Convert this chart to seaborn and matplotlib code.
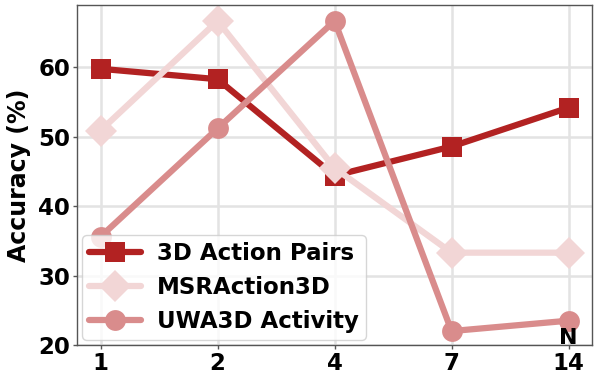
import matplotlib
matplotlib.use("Agg")
import matplotlib.pyplot as plt
import seaborn as sns
import pandas as pd

n_labels = ["1", "2", "4", "7", "14"]
pairs_3d = [59.8, 58.3, 44.4, 48.6, 54.2]
msr_3d = [50.9, 66.7, 45.5, 33.3, 33.3]
uwa_3d = [35.6, 51.2, 66.7, 22.0, 23.5]

series_names = ["3D Action Pairs", "MSRAction3D", "UWA3D Activity"]
series_vals = [pairs_3d, msr_3d, uwa_3d]
colors = ["#B22222", "#F2D6D6", "#D98C8C"]
markers = ["s", "D", "o"]
msizes = [15, 16, 15]

sns.set_theme(style="whitegrid", rc={
    "axes.edgecolor": "#555555",
    "axes.linewidth": 1.0,
    "grid.color": "#e3e3e3",
    "grid.linewidth": 1.8,
    "xtick.bottom": True,
    "ytick.left": True,
    "xtick.color": "#555555",
    "ytick.color": "#555555",
    "xtick.labelcolor": "black",
    "ytick.labelcolor": "black",
    "text.color": "black",
    "axes.labelcolor": "black",
})
plt.rcParams["font.family"] = ["DejaVu Sans"]

fig = plt.figure(figsize=(5.98, 3.82), dpi=100)
ax = fig.add_axes([0.129, 0.097, 0.861, 0.890])

for name, vals, c, m, ms in zip(series_names, series_vals, colors, markers, msizes):
    df = pd.DataFrame({"N": n_labels, "acc": vals})
    sns.lineplot(data=df, x="N", y="acc", ax=ax, color=c, marker=m,
                 markersize=ms, linewidth=4.5, markeredgewidth=0,
                 label=name, sort=False)

ax.set_xlim(-0.2, 4.2)
ax.set_ylim(20, 69)
ax.set_yticks([20, 30, 40, 50, 60])
ax.set_xlabel("")
ax.set_ylabel("Accuracy (%)", fontsize=17, fontweight="bold", labelpad=5)
for lab in ax.get_xticklabels() + ax.get_yticklabels():
    lab.set_fontsize(16.5)
    lab.set_fontweight("bold")
ax.tick_params(axis="both", length=3, width=1, pad=2)
ax.text(4, 19.6, "N", ha="center", va="bottom", fontsize=16, fontweight="bold")

leg = ax.legend(loc="lower left", prop={"size": 16.5, "weight": "bold"},
                framealpha=0.8, handlelength=2.25, borderpad=0.3,
                labelspacing=0.48, handletextpad=0.72, borderaxespad=0.22)

fig.savefig("out.png", dpi=100)
